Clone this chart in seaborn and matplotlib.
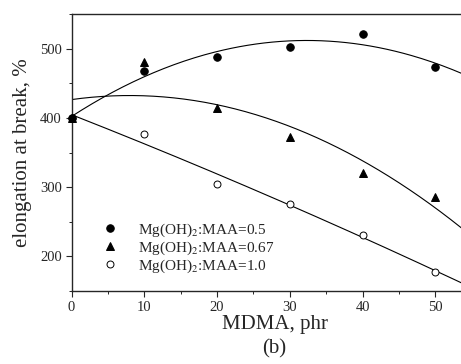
import numpy as np
import pandas as pd
import matplotlib
matplotlib.use("Agg")
import matplotlib.pyplot as plt
import seaborn as sns
from matplotlib.ticker import MultipleLocator

mdma = [0, 10, 20, 30, 40, 50]
elong_05 = [400, 468, 488, 503, 521, 473]
elong_067 = [400, 481, 414, 372, 320, 286]
elong_10 = [400, 377, 305, 276, 231, 178]
labels = ["Mg(OH)$_2$:MAA=0.5", "Mg(OH)$_2$:MAA=0.67", "Mg(OH)$_2$:MAA=1.0"]

sns.set_style("ticks")
plt.rcParams["font.family"] = ["Liberation Serif", "DejaVu Serif"]
plt.rcParams["mathtext.fontset"] = "stix"

fig = plt.figure(figsize=(4.61, 3.64), dpi=100)
W, H = 461, 364
left, right, top, bottom = 71.5, 479, 14, 291
ax = fig.add_axes([left / W, 1 - bottom / H, (right - left) / W, (bottom - top) / H])

df = pd.DataFrame({
    "MDMA": mdma * 3,
    "elong": elong_05 + elong_067 + elong_10,
    "series": [labels[0]] * 6 + [labels[1]] * 6 + [labels[2]] * 6,
})

# quadratic fits drawn from the data
xs = np.linspace(0, 56, 200)
for ys in (elong_05, elong_067, elong_10):
    c = np.polyfit(mdma, ys, 2)
    sns.lineplot(x=xs, y=np.polyval(c, xs), ax=ax, color="black", lw=0.8)

styles = [("o", "black", 5, 5.4), ("^", "black", 4, 5.6), ("o", "white", 3, 5.0)]
for (m, fc, z, ms), lab in zip(styles, labels):
    sub = df[df.series == lab]
    ax.plot(sub.MDMA, sub.elong, linestyle="none", marker=m, ms=ms,
            mfc=fc, mec="black", mew=0.7, label=lab, zorder=z, clip_on=False)

ax.set_xlim(0, 56)
ax.set_ylim(150, 550)
ax.xaxis.set_major_locator(MultipleLocator(10))
ax.xaxis.set_minor_locator(MultipleLocator(5))
ax.yaxis.set_major_locator(MultipleLocator(100))
ax.yaxis.set_minor_locator(MultipleLocator(50))
ax.set_yticks([200, 300, 400, 500])
ax.tick_params(which="major", direction="out", length=4, width=0.8, labelsize=10.5, pad=3)
ax.tick_params(which="minor", direction="out", length=2.5, width=0.7)
for s in ax.spines.values():
    s.set_linewidth(1.0)
ax.spines["right"].set_visible(False)

ax.set_xlabel("MDMA, phr", fontsize=15, labelpad=1)
ax.set_ylabel("elongation at break, %", fontsize=15, labelpad=6)
fig.text(274 / W, 1 - 349 / H, "(b)", fontsize=15, ha="center", va="center")

ax.legend(loc="lower left", bbox_to_anchor=(0.05, 0.02), frameon=False, fontsize=11,
          handletextpad=1.3, labelspacing=0.05, borderpad=0.2, handlelength=1.0)

fig.savefig("out.png", dpi=100)
